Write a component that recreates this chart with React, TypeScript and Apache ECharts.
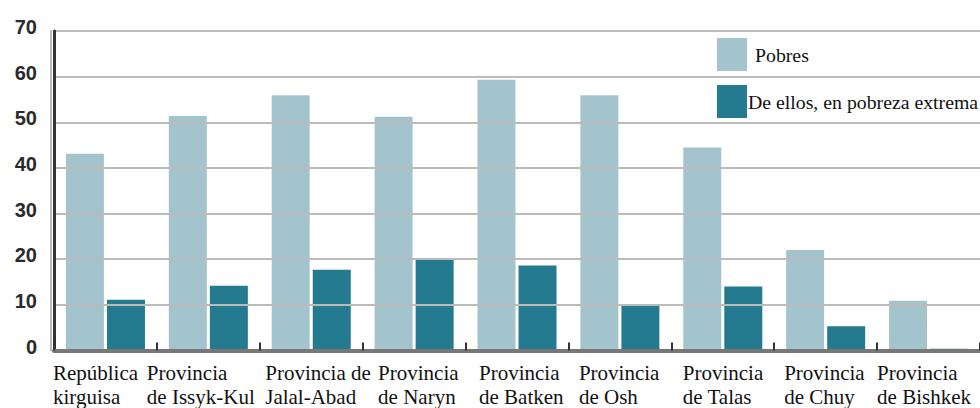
import React, { useEffect, useRef } from "react";
import * as echarts from "echarts";

const categories: string[] = [
  "República\nkirguisa",
  "Provincia\nde Issyk-Kul",
  "Provincia de\nJalal-Abad",
  "Provincia\nde Naryn",
  "Provincia\nde Batken",
  "Provincia\nde Osh",
  "Provincia\nde Talas",
  "Provincia\nde Chuy",
  "Provincia\nde Bishkek",
];

const pobres: number[] = [43.1, 51.4, 55.9, 51.2, 59.3, 55.9, 44.5, 22.0, 10.9];
const extrema: number[] = [11.1, 14.2, 17.7, 20.0, 18.6, 10.2, 14.0, 5.3, 0.4];

const seriesNames: string[] = ["Pobres", "De ellos, en pobreza extrema"];
const yTicks: number[] = [0, 10, 20, 30, 40, 50, 60, 70];

// layout: width of the left-aligned label block under each category (styling only)
const labelBlockWidths: number[] = [105, 123, 92, 72, 76, 82, 80, 83, 103];

const SERIF = '"Liberation Serif", "Times New Roman", "DejaVu Serif", serif';
const SANS = '"Liberation Sans", Arial, "DejaVu Sans", sans-serif';

export default function App() {
  const ref = useRef<HTMLDivElement>(null);

  useEffect(() => {
    if (!ref.current) return;
    const chart = echarts.init(ref.current, null, { renderer: "svg" });

    const rich: Record<string, any> = {};
    labelBlockWidths.forEach((w, i) => {
      rich["c" + i] = {
        width: w,
        align: "left",
        fontFamily: SERIF,
        fontSize: 21,
        lineHeight: 24,
        color: "#111",
      };
    });

    chart.setOption({
      animation: false,
      backgroundColor: "#ffffff",
      grid: {
        left: 54,
        right: 0,
        top: 31,
        bottom: 57.5,
        containLabel: false,
        outerBoundsMode: "none",
      },
      legend: {
        orient: "vertical",
        left: 712,
        top: 33,
        itemWidth: 30,
        itemHeight: 33,
        itemGap: 14,
        icon: "rect",
        textStyle: { fontFamily: SERIF, fontSize: 19.8, color: "#111" },
        data: [
          { name: seriesNames[0], textStyle: { padding: [0, 0, 0, 3] } },
          { name: seriesNames[1], textStyle: { padding: [0, 0, 0, -4] } },
        ],
      },
      xAxis: {
        type: "category",
        data: categories,
        z: 10,
        axisLine: { show: true, lineStyle: { color: "#777777", width: 4 } },
        axisTick: {
          show: true,
          inside: true,
          length: 8,
          lineStyle: { color: "#333333", width: 2 },
        },
        axisLabel: {
          interval: 0,
          margin: 10,
          formatter: (v: string, idx: number) =>
            v
              .split("\n")
              .map((l) => "{c" + idx + "|" + l + "}")
              .join("\n"),
          rich,
        },
      },
      yAxis: [
        {
          type: "value",
          min: yTicks[0],
          max: yTicks[yTicks.length - 1],
          interval: 10,
          z: 5,
          axisLine: { show: true, lineStyle: { color: "#333333", width: 3 } },
          axisTick: { show: false },
          axisLabel: {
            margin: 17,
            fontFamily: SANS,
            fontWeight: "bold",
            fontSize: 20,
            color: "#2a2a2a",
            verticalAlign: "bottom",
            padding: [0, 0, -6, 0],
          },
          splitLine: { show: true, lineStyle: { color: "#bbbbbb", width: 2 } },
        },
        {
          type: "value",
          position: "left",
          offset: 3,
          min: yTicks[0],
          max: yTicks[yTicks.length - 1],
          interval: 10,
          axisLine: { show: true, lineStyle: { color: "#bbbbbb", width: 2 } },
          axisTick: { show: false },
          axisLabel: { show: false },
          splitLine: { show: false },
        },
      ],
      series: [
        {
          name: seriesNames[0],
          type: "bar",
          data: pobres,
          barWidth: 38,
          barGap: "8%",
          itemStyle: { color: "#a4c4cd" },
        },
        {
          name: seriesNames[1],
          type: "bar",
          data: extrema,
          barWidth: 38,
          itemStyle: { color: "#247b8f" },
        },
      ],
    });
    return () => chart.dispose();
  }, []);

  return (
    <div
      ref={ref}
      style={{ position: "absolute", left: 0, top: 0, width: 980, height: 408 }}
    />
  );
}
